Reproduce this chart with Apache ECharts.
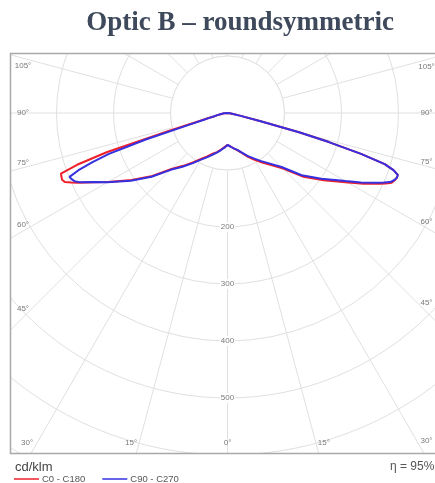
<!DOCTYPE html>
<html><head><meta charset="utf-8">
<script src="https://cdn.jsdelivr.net/npm/echarts@6/dist/echarts.min.js"></script>
<style>html,body{margin:0;padding:0;background:#fff}#c{width:435px;height:483px}</style>
</head><body><div id="c"></div>
<script>
// photometric angle gamma (0 = straight down)
const gammaDeg = [0,5,10,15,20,25,30,35,40,45,50,55,60,62.5,65,66,67,68,69,70,71,72,73,74,75,76,78,80,85,90,180];
// cd/klm, C0 (right, red)
const c0   = [56,59,63,68,75,85,95,106,119,138,174,206,244,269,294,304,313,316,318,318,308,290,245,185,130,60,22,10,4,0,0];
// C180 (left, red)
const c180 = [56,60,65,71,76,84,93,106,121,139,172,205,242,263,290,300,310,313,312,311,279,223,108,51,36,25,18,12,6,0,0];
// C90 (right, blue)
const c90  = [56,59,63,67,74,83,92,103,116,134,170,201,239,264,290,300,310,315,318,318,308,290,245,185,130,60,22,10,4,0,0];
// C270 (left, blue)
const c270 = [56,61,66,72,78,86,95,108,123,141,174,207,243,262,287,294,297,299,280,252,220,152,67,43,33,25,18,13,6,0,0];

const seriesNames = ['C0 - C180', 'C90 - C270'];
const seriesColors = ['#f0202a', '#3530e0'];
const radiusMax = 800, radiusStep = 100, innerBlankRadius = 100;
const radiusTickLabels = ['200', '300', '400', '500'];
const angleTickValues = [0, 15, 30, 45, 60, 75, 90, 105];
const titleText = 'Optic B \u2013 roundsymmetric';
const unitText = 'cd/klm';
const etaText = '\u03b7 = 95%';

// layout
const cx = 227.5, cy = 113;
const outerR = 456;
const box = {x: 10.5, y: 53.5, w: 440, h: 400};
const gridColor = '#e0e0e0';

function curve(left, right) {
  const pts = [];
  for (let i = gammaDeg.length - 1; i >= 0; i--) pts.push([left[i], gammaDeg[i]]);
  for (let i = 1; i < gammaDeg.length; i++) pts.push([right[i], 360 - gammaDeg[i]]);
  return pts;
}

const labelFont = '8px "Liberation Sans", Arial, sans-serif';
const graphics = [];
const white = {fill: '#fff'};
graphics.push({type: 'rect', z: 100, silent: true, shape: {x: 0, y: 0, width: 435, height: box.y}, style: white});
graphics.push({type: 'rect', z: 100, silent: true, shape: {x: 0, y: 0, width: box.x, height: 483}, style: white});
graphics.push({type: 'rect', z: 100, silent: true, shape: {x: 0, y: box.y + box.h, width: 435, height: 483 - box.y - box.h}, style: white});
graphics.push({type: 'rect', z: 101, silent: true, shape: {x: box.x, y: box.y, width: box.w, height: box.h},
  style: {fill: 'none', stroke: '#a9a9a9', lineWidth: 1.5}});

const insetLeft = 204.5, insetRight = 199, insetBottom = 329.5;
angleTickValues.forEach(function (g) {
  const sides = g === 0 ? [1] : [-1, 1];
  sides.forEach(function (s) {
    let a = g;
    if (g > 0 && g < 90) a = g + 1.3;
    if (g > 90) a = g - 2;
    const rad = a * Math.PI / 180;
    const sx = Math.sin(rad), sy = Math.cos(rad);
    const inset = s < 0 ? insetLeft : insetRight;
    let t = sx > 1e-6 ? inset / sx : Infinity;
    if (sy > 1e-6) t = Math.min(t, insetBottom / sy);
    graphics.push({type: 'text', z: 102, silent: true, x: cx + s * sx * t, y: cy + sy * t,
      style: {text: g + '\u00b0', font: labelFont, fill: '#7a7a7a', align: 'center', verticalAlign: 'middle'}});
  });
});

graphics.push({type: 'text', z: 102, silent: true, x: 240, y: 23,
  style: {text: titleText, font: 'bold 27px "Liberation Serif", "Times New Roman", serif', fill: '#3e4a5c', align: 'center', verticalAlign: 'middle'}});
graphics.push({type: 'text', z: 102, silent: true, x: 15, y: 467,
  style: {text: unitText, font: '13px "Liberation Sans", Arial, sans-serif', fill: '#444', align: 'left', verticalAlign: 'middle'}});
graphics.push({type: 'text', z: 102, silent: true, x: 390, y: 467,
  style: {text: etaText, font: '12px "Liberation Sans", Arial, sans-serif', fill: '#555', align: 'left', verticalAlign: 'middle'}});

const chart = echarts.init(document.getElementById('c'), null, {renderer: 'canvas'});
const option = {
  animation: false,
  backgroundColor: '#fff',
  polar: {center: [cx, cy], radius: [0, outerR]},
  angleAxis: {
    type: 'value', min: 0, max: 360, interval: 15, startAngle: 270, clockwise: true, z: 0,
    axisLine: {show: false}, axisTick: {show: false}, axisLabel: {show: false},
    splitLine: {show: true, lineStyle: {color: gridColor, width: 1}}
  },
  radiusAxis: {
    type: 'value', min: 0, max: radiusMax, interval: radiusStep, z: 0,
    axisLine: {show: false}, axisTick: {show: false},
    splitLine: {show: true, lineStyle: {color: gridColor, width: 1}},
    axisLabel: {
      show: true, margin: 0, align: 'center', verticalAlign: 'middle', rotate: 0,
      color: '#7a7a7a', fontSize: 8, fontFamily: '"Liberation Sans", Arial, sans-serif',
      backgroundColor: '#fff', padding: [1, 1],
      formatter: function (v) { const s = String(v); return radiusTickLabels.indexOf(s) >= 0 ? s : ''; }
    }
  },
  legend: {
    z: 103, left: 14, top: 474, padding: 0, icon: 'rect', itemWidth: 25, itemHeight: 1.5, itemGap: 17,
    textStyle: {fontSize: 9.5, color: '#555', fontFamily: '"Liberation Sans", Arial, sans-serif', padding: [0, 0, 0, -2]},
    data: seriesNames
  },
  series: [
    {name: seriesNames[0], type: 'line', coordinateSystem: 'polar', data: curve(c180, c0),
     symbol: 'none', clip: false, z: 3, lineStyle: {color: seriesColors[0], width: 2}, itemStyle: {color: seriesColors[0]}},
    {name: seriesNames[1], type: 'line', coordinateSystem: 'polar', data: curve(c270, c90),
     symbol: 'none', clip: false, z: 4, lineStyle: {color: seriesColors[1], width: 2}, itemStyle: {color: seriesColors[1]}}
  ],
  graphic: graphics
};
chart.setOption(option);
// blank inner disk (no radial lines inside the first circle), sized through the polar scale
const p0 = chart.convertToPixel({seriesIndex: 0}, [0, 0]);
const p1 = chart.convertToPixel({seriesIndex: 0}, [innerBlankRadius, 0]);
const rIn = Math.hypot(p1[0] - p0[0], p1[1] - p0[1]);
graphics.push({type: 'circle', z: 1, silent: true, shape: {cx: p0[0], cy: p0[1], r: rIn},
  style: {fill: '#fff', stroke: gridColor, lineWidth: 1}});
chart.setOption({graphic: graphics}, {replaceMerge: ['graphic']});
</script></body></html>
